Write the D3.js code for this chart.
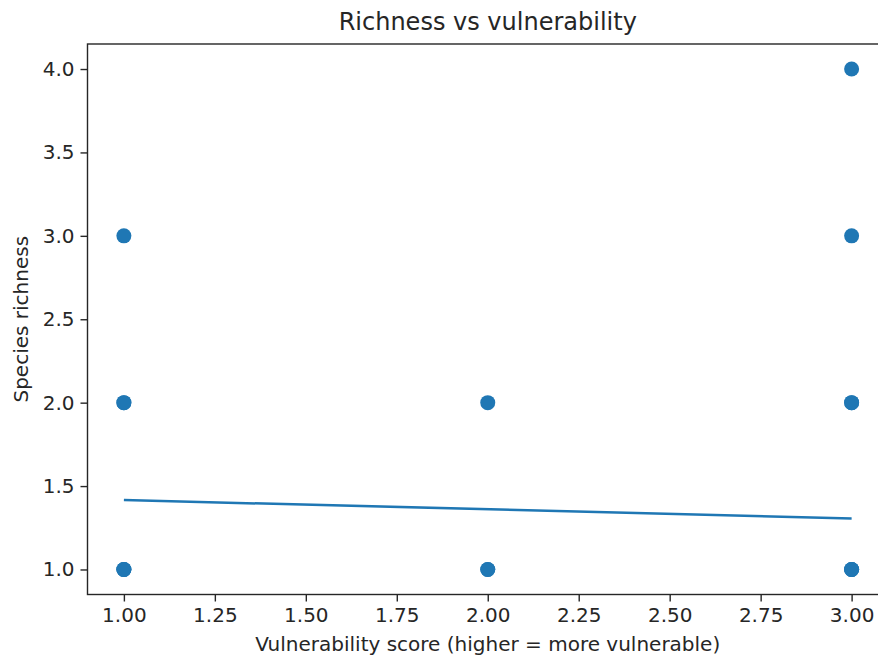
<!DOCTYPE html>
<html>
<head>
<meta charset="utf-8">
<script src="https://cdn.jsdelivr.net/npm/d3@7"></script>
<style>
  html, body { margin: 0; padding: 0; background: #fff; overflow: hidden; }
  svg { display: block; font-family: "DejaVu Sans", sans-serif; }
</style>
</head>
<body>
<svg id="chart" width="878" height="657"></svg>
<script>
// Data
const scoreX = [1, 1, 1, 1, 1, 1, 2, 2, 2, 3, 3, 3, 3, 3, 3, 3];
const richnessY = [1, 1, 2, 2, 3, 1, 1, 2, 1, 1, 1, 2, 2, 3, 4, 1];
const fitX = [1, 3];
const fitY = [1.416, 1.306];
const xTicks = [1.00, 1.25, 1.50, 1.75, 2.00, 2.25, 2.50, 2.75, 3.00];
const yTicks = [1.0, 1.5, 2.0, 2.5, 3.0, 3.5, 4.0];
const titleText = "Richness vs vulnerability";
const xLabelText = "Vulnerability score (higher = more vulnerable)";
const yLabelText = "Species richness";

const color = "#1f77b4";
const mLeft = 87.5, mRight = 888, mTop = 44, mBottom = 594.5;

const svg = d3.select("#chart");
const x = d3.scaleLinear().domain([0.9, 3.1]).range([mLeft, mRight]);
const y = d3.scaleLinear().domain([0.85, 4.15]).range([mBottom, mTop]);

// points
svg.append("g").selectAll("circle")
  .data(scoreX.map((d, i) => [d, richnessY[i]]))
  .join("circle")
  .attr("cx", d => x(d[0]))
  .attr("cy", d => y(d[1]))
  .attr("r", 7.5)
  .attr("fill", color);

// fit line
svg.append("path")
  .datum(fitX.map((d, i) => [d, fitY[i]]))
  .attr("d", d3.line().x(d => x(d[0])).y(d => y(d[1])))
  .attr("fill", "none")
  .attr("stroke", color)
  .attr("stroke-width", 2.5);

// axes
const xAxis = d3.axisBottom(x).tickValues(xTicks).tickFormat(d3.format(".2f")).tickSizeOuter(0).tickSize(7).tickPadding(6);
const yAxis = d3.axisLeft(y).tickValues(yTicks).tickFormat(d3.format(".1f")).tickSizeOuter(0).tickSize(7).tickPadding(6);

const gx = svg.append("g").attr("transform", `translate(0,${mBottom})`).call(xAxis);
const gy = svg.append("g").attr("transform", `translate(${mLeft},0)`).call(yAxis);
[gx, gy].forEach(g => {
  g.selectAll("text").attr("font-family", "DejaVu Sans").attr("font-size", 20).attr("fill", "#262626");
  g.selectAll("line").attr("stroke", "#262626").attr("stroke-width", 1.4);
  g.select(".domain").remove();
});

// frame (spines)
svg.append("rect")
  .attr("x", mLeft).attr("y", mTop)
  .attr("width", mRight - mLeft).attr("height", mBottom - mTop)
  .attr("fill", "none").attr("stroke", "#262626").attr("stroke-width", 1.4);

// title & labels
svg.append("text")
  .attr("x", (mLeft + mRight) / 2).attr("y", 30)
  .attr("text-anchor", "middle").attr("font-size", 24).attr("fill", "#262626")
  .text(titleText);
svg.append("text")
  .attr("x", (mLeft + mRight) / 2).attr("y", 651)
  .attr("text-anchor", "middle").attr("font-size", 20).attr("fill", "#262626")
  .text(xLabelText);
svg.append("text")
  .attr("transform", `translate(28,${(mTop + mBottom) / 2}) rotate(-90)`)
  .attr("text-anchor", "middle").attr("font-size", 20).attr("fill", "#262626")
  .text(yLabelText);
</script>
</body>
</html>
